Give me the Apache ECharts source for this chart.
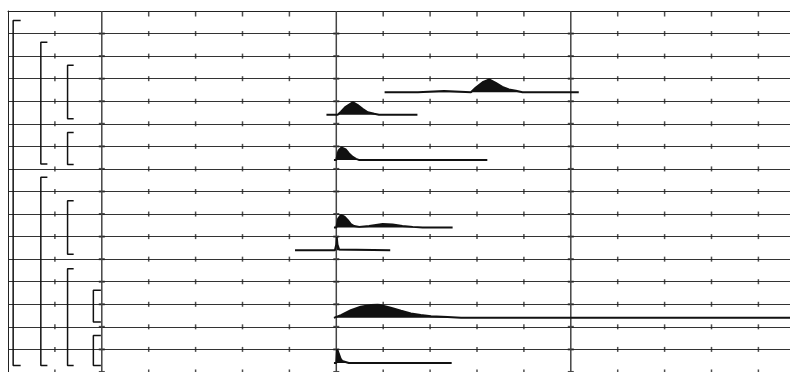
<!DOCTYPE html>
<html>
<head>
<meta charset="utf-8">
<script src="https://cdn.jsdelivr.net/npm/echarts@6/dist/echarts.min.js"></script>
<style>
  html, body { margin: 0; padding: 0; background: #fff; }
  #chart { width: 790px; height: 372px; }
</style>
</head>
<body>
<div id="chart"></div>
<script>
// x unit = one minor tick step, y unit = one row (rows counted downward)
const majorX = [-5, 0, 5];
const minorX = [-6, -4, -3, -2, -1, 1, 2, 3, 4, 6, 7, 8, 9];
const rowLines = [1, 2, 3, 4, 5, 6, 7, 8, 9, 10, 11, 12, 13, 14, 15, 16];

// grouping brackets, one list per level
const bracketX = [-6.89, -6.30, -5.73, -5.18];
const bracketEnd = [-6.73, -6.16, -5.60, -5.02];
const level1 = [[0.42, 15.71]];
const level2 = [[1.39, 6.78], [7.37, 15.71]];
const level3 = [[2.40, 4.78], [5.39, 6.80], [8.41, 10.78], [11.42, 15.71]];
const level4 = [[12.38, 13.79], [14.38, 15.71]];

// density ridges: baseline row, baseline extent, curve samples (x, height in rows)
const baseRow = [3.6, 4.6, 6.6, 9.6, 10.6, 13.6, 15.6];
const baseFrom = [1.03, -0.21, -0.05, -0.05, -0.88, -0.05, -0.05];
const baseTo = [5.17, 1.73, 3.22, 2.48, 1.15, 10.5, 2.46];

const aX = [1.74, 1.76, 2.30, 2.32, 2.87, 2.97, 3.12, 3.26, 3.40, 3.54, 3.68, 3.83, 3.97];
const aH = [0, 0.05, 0.05, 0, 0, 0.195, 0.444, 0.564, 0.418, 0.24, 0.12, 0.067, 0];
const bX = [0.03, 0.10, 0.20, 0.35, 0.45, 0.56, 0.67, 0.81, 0.91];
const bH = [0, 0.133, 0.355, 0.555, 0.444, 0.267, 0.111, 0.044, 0];
const cX = [0, 0.03, 0.05, 0.11, 0.14, 0.20, 0.27, 0.35, 0.42, 0.48];
const cH = [0, 0.3, 0.42, 0.555, 0.53, 0.466, 0.29, 0.133, 0.044, 0];
const dX = [0, 0.04, 0.10, 0.17, 0.24, 0.31, 0.38, 0.49, 0.70, 0.99, 1.20, 1.41, 1.63, 1.84];
const dH = [0, 0.4, 0.564, 0.489, 0.342, 0.151, 0.067, 0.031, 0.067, 0.164, 0.133, 0.067, 0.031, 0];
const eX = [-0.03, 0.0, 0.01, 0.025, 0.06, 0.10];
const eH = [0, 0.25, 0.58, 0.25, 0.03, 0];
const fX = [-0.05, 0, 0.10, 0.31, 0.52, 0.74, 0.88, 0.95, 1.16, 1.38, 1.59, 1.80, 2.02, 2.37, 2.66];
const fH = [0, 0.04, 0.12, 0.342, 0.489, 0.564, 0.575, 0.564, 0.444, 0.311, 0.195, 0.12, 0.067, 0.031, 0];
const gX = [0, 0.017, 0.053, 0.09, 0.124, 0.196, 0.267];
const gH = [0, 0.6, 0.418, 0.195, 0.089, 0.044, 0];

const curveX = [aX, bX, cX, dX, eX, fX, gX];
const curveH = [aH, bH, cH, dH, eH, fH, gH];

var myChart = echarts.init(document.getElementById('chart'), null, { renderer: 'canvas' });

const series = [];

// major vertical lines
majorX.forEach(x => {
  series.push({
    type: 'line', silent: true, symbol: 'none',
    lineStyle: { color: '#444', width: 1.5 },
    data: [[x, 0], [x, 17]]
  });
});

// short ticks on the grid
const tickData = [];
minorX.forEach(x => rowLines.forEach(r => tickData.push([x, r])));
series.push({
  type: 'scatter', silent: true, symbol: 'rect', symbolSize: [1.5, 5],
  itemStyle: { color: '#222' }, data: tickData
});
series.push({
  type: 'scatter', silent: true, symbol: 'rect', symbolSize: [1.5, 5], symbolOffset: [0, 3],
  itemStyle: { color: '#222' }, data: minorX.map(x => [x, 0])
});
const crossData = [];
majorX.forEach(x => rowLines.forEach(r => crossData.push([x, r])));
series.push({
  type: 'scatter', silent: true, symbol: 'rect', symbolSize: [6, 2],
  itemStyle: { color: '#222' }, data: crossData
});

// brackets
[level1, level2, level3, level4].forEach((lvl, i) => {
  lvl.forEach(span => {
    series.push({
      type: 'line', silent: true, symbol: 'none',
      lineStyle: { color: '#111', width: 1.5 },
      data: [[bracketEnd[i], span[0]], [bracketX[i], span[0]], [bracketX[i], span[1]], [bracketEnd[i], span[1]]]
    });
  });
});

// density ridges
baseRow.forEach((b, i) => {
  const pts = [[baseFrom[i], b]];
  curveX[i].forEach((x, j) => pts.push([x, b - curveH[i][j]]));
  pts.push([baseTo[i], b]);
  series.push({
    type: 'line', silent: true, symbol: 'none',
    lineStyle: { color: '#111', width: 2 },
    areaStyle: { color: '#111', opacity: 1, origin: b },
    data: pts
  });
});

myChart.setOption({
  animation: false,
  grid: { left: 8, top: 11, width: 17 * 46.9, height: 17 * 22.56, outerBoundsMode: 'none', containLabel: false },
  xAxis: {
    type: 'value', position: 'top', min: -7, max: 10, interval: 1,
    axisLine: { show: true, onZero: false, lineStyle: { color: '#222', width: 1 } },
    axisTick: { show: false }, axisLabel: { show: false }, splitLine: { show: false }
  },
  yAxis: {
    type: 'value', inverse: true, min: 0, max: 17, interval: 1,
    axisLine: { show: true, onZero: false, lineStyle: { color: '#222', width: 1 } },
    axisTick: { show: false }, axisLabel: { show: false },
    splitLine: { show: true, lineStyle: { color: '#333', width: 1.2 } }
  },
  series: series
});
</script>
</body>
</html>
